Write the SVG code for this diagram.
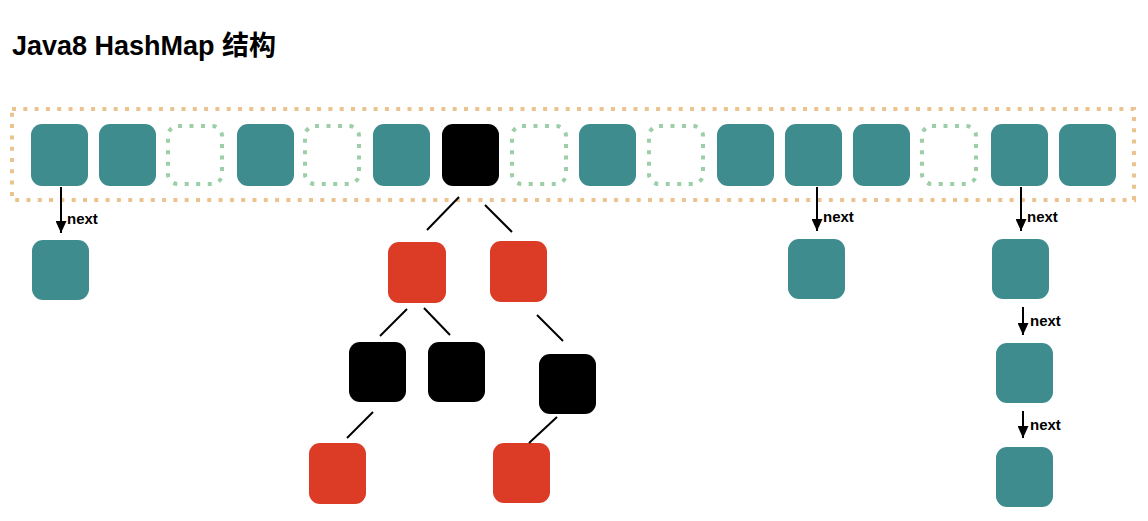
<svg xmlns="http://www.w3.org/2000/svg" width="1148" height="521" viewBox="0 0 1148 521">
<style>
.t{fill:#3F8C8F}
.r{fill:#DC3C25}
.b{fill:#000}
.d{fill:none;stroke:#9CCFA7;stroke-width:4;stroke-dasharray:4 7.5}
.frame{fill:none;stroke:#EAC38E;stroke-width:4;stroke-dasharray:4 7.3}
.edge{stroke:#000;stroke-width:2;fill:none}
.arrow{stroke:#000;stroke-width:2;fill:none;marker-end:url(#ah)}
.lbl{font-family:"Liberation Sans",Arial,sans-serif;font-weight:bold;font-size:15px;fill:#000}
.title{font-family:"Liberation Sans","Noto Sans CJK SC",sans-serif;font-weight:bold;font-size:27px;fill:#000}
</style>
<defs>
<marker id="ah" markerUnits="userSpaceOnUse" markerWidth="12" markerHeight="11" refX="12" refY="5.5" orient="auto" viewBox="0 0 12 11">
<path d="M0,0 L12,5.5 L0,11 z" fill="#000"/>
</marker>
</defs>
<rect width="1148" height="521" fill="#fff"/>
<text class="title" x="12" y="55">Java8 HashMap 结构</text>
<g id="table">
<rect class="frame" x="12" y="109" width="1122" height="91"/>
</g>
<g id="buckets">
<rect id="b0" class="t" x="31" y="124" width="57" height="62" rx="11"/>
<rect id="b1" class="t" x="99" y="124" width="57" height="62" rx="11"/>
<rect id="b2" class="d" x="168" y="126" width="54" height="58" rx="10"/>
<rect id="b3" class="t" x="237" y="124" width="57" height="62" rx="11"/>
<rect id="b4" class="d" x="305" y="126" width="54" height="58" rx="10"/>
<rect id="b5" class="t" x="373" y="124" width="57" height="62" rx="11"/>
<rect id="b6" class="b" x="442" y="124" width="57" height="62" rx="11"/>
<rect id="b7" class="d" x="512" y="126" width="54" height="58" rx="10"/>
<rect id="b8" class="t" x="579" y="124" width="57" height="62" rx="11"/>
<rect id="b9" class="d" x="649" y="126" width="54" height="58" rx="10"/>
<rect id="b10" class="t" x="717" y="124" width="57" height="62" rx="11"/>
<rect id="b11" class="t" x="785" y="124" width="57" height="62" rx="11"/>
<rect id="b12" class="t" x="853" y="124" width="57" height="62" rx="11"/>
<rect id="b13" class="d" x="922" y="126" width="54" height="58" rx="10"/>
<rect id="b14" class="t" x="991" y="124" width="57" height="62" rx="11"/>
<rect id="b15" class="t" x="1059" y="124" width="57" height="62" rx="11"/>
</g>
<g id="list-nodes">
<rect id="l0" class="t" x="32" y="240" width="57" height="60" rx="11"/>
<rect id="l11" class="t" x="788" y="239" width="57" height="60" rx="11"/>
<rect id="l14a" class="t" x="992" y="239" width="57" height="60" rx="11"/>
<rect id="l14b" class="t" x="996" y="343" width="57" height="60" rx="11"/>
<rect id="l14c" class="t" x="996" y="447" width="57" height="60" rx="11"/>
</g>
<g id="tree-nodes">
<rect id="n1" class="r" x="388" y="242" width="58" height="61" rx="11"/>
<rect id="n2" class="r" x="490" y="241" width="57" height="61" rx="11"/>
<rect id="n3" class="b" x="349" y="342" width="57" height="60" rx="11"/>
<rect id="n4" class="b" x="428" y="342" width="57" height="60" rx="11"/>
<rect id="n5" class="b" x="539" y="354" width="57" height="60" rx="11"/>
<rect id="n6" class="r" x="309" y="443" width="57" height="61" rx="11"/>
<rect id="n7" class="r" x="493" y="443" width="57" height="60" rx="11"/>
</g>
<g id="connectors">
<line class="edge" x1="459" y1="197" x2="427" y2="230"/>
<line class="edge" x1="485" y1="205" x2="512" y2="232"/>
<line class="edge" x1="407" y1="309" x2="380" y2="336"/>
<line class="edge" x1="424" y1="308" x2="450" y2="335"/>
<line class="edge" x1="537" y1="315" x2="563" y2="341"/>
<line class="edge" x1="373" y1="412" x2="347" y2="438"/>
<line class="edge" x1="557" y1="417" x2="529" y2="443"/>
<line class="arrow" x1="61" y1="187" x2="61" y2="233"/>
<line class="arrow" x1="817" y1="187" x2="817" y2="231"/>
<line class="arrow" x1="1021" y1="187" x2="1021" y2="231"/>
<line class="arrow" x1="1023" y1="307" x2="1023" y2="335"/>
<line class="arrow" x1="1023" y1="411" x2="1023" y2="438"/>
<text class="lbl" x="67" y="224">next</text>
<text class="lbl" x="823" y="222">next</text>
<text class="lbl" x="1027" y="222">next</text>
<text class="lbl" x="1030" y="326">next</text>
<text class="lbl" x="1030" y="430">next</text>
</g>
</svg>
